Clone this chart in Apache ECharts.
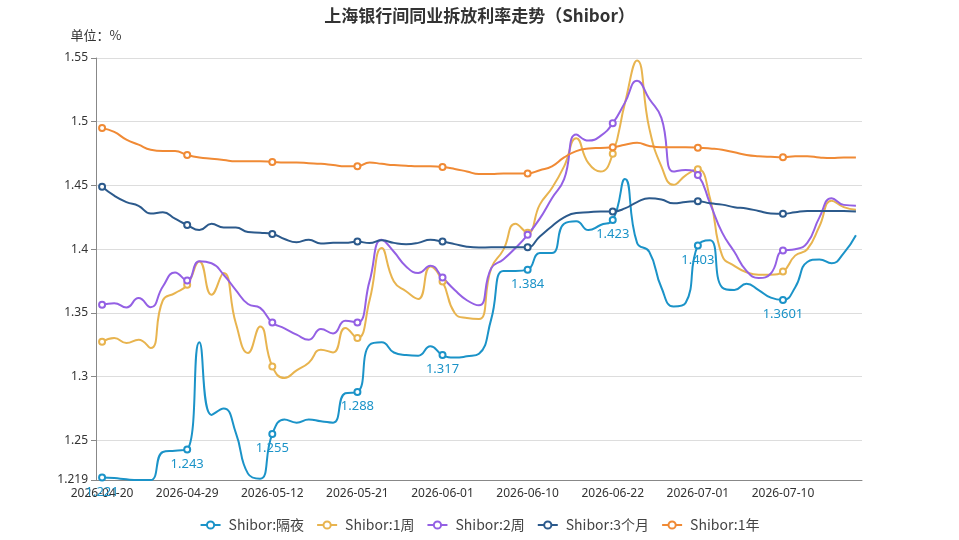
<!DOCTYPE html>
<html>
<head>
<meta charset="utf-8">
<title>Shibor</title>
<script src="https://cdn.jsdelivr.net/npm/echarts@6/dist/echarts.min.js"></script>
<style>
html, body { margin: 0; padding: 0; background: #fff; }
#chart { width: 959px; height: 540px; }
</style>
</head>
<body>
<div id="chart"></div>
<script>
var dates = [
  '2026-04-20', '2026-04-21', '2026-04-22', '2026-04-23', '2026-04-24', '2026-04-27', '2026-04-28',
  '2026-04-29', '2026-04-30', '2026-05-06', '2026-05-07', '2026-05-08', '2026-05-09', '2026-05-11',
  '2026-05-12', '2026-05-13', '2026-05-14', '2026-05-15', '2026-05-18', '2026-05-19', '2026-05-20',
  '2026-05-21', '2026-05-22', '2026-05-25', '2026-05-26', '2026-05-27', '2026-05-28', '2026-05-29',
  '2026-06-01', '2026-06-02', '2026-06-03', '2026-06-04', '2026-06-05', '2026-06-08', '2026-06-09',
  '2026-06-10', '2026-06-11', '2026-06-12', '2026-06-15', '2026-06-16', '2026-06-17', '2026-06-18',
  '2026-06-22', '2026-06-23', '2026-06-24', '2026-06-25', '2026-06-26', '2026-06-29', '2026-06-30',
  '2026-07-01', '2026-07-02', '2026-07-03', '2026-07-06', '2026-07-07', '2026-07-08', '2026-07-09',
  '2026-07-10', '2026-07-13', '2026-07-14', '2026-07-15', '2026-07-16', '2026-07-17', '2026-07-20'
];

var seriesNames = ['Shibor:隔夜', 'Shibor:1周', 'Shibor:2周', 'Shibor:3个月', 'Shibor:1年'];
var colors = ['#1b93c8', '#e8b44f', '#9460e4', '#2c5a8c', '#f08a35'];

var overnight = [
  1.221, 1.2205, 1.2195, 1.219, 1.219, 1.241, 1.242, 1.243, 1.327, 1.270,
  1.275, 1.256, 1.224, 1.220, 1.255, 1.2665, 1.264, 1.2665, 1.265, 1.264,
  1.287, 1.288, 1.325, 1.327, 1.319, 1.317, 1.3165, 1.324, 1.317, 1.315,
  1.316, 1.318, 1.345, 1.383, 1.383, 1.384, 1.397, 1.397, 1.420, 1.422,
  1.415, 1.419, 1.423, 1.455, 1.405, 1.398, 1.370, 1.355, 1.358, 1.403,
  1.407, 1.370, 1.368, 1.373, 1.368, 1.362, 1.3601, 1.370, 1.390, 1.392,
  1.389, 1.397, 1.411
];
var week1 = [
  1.3274, 1.3303, 1.3264, 1.329, 1.3225, 1.360, 1.3656, 1.3721, 1.3904, 1.3643,
  1.3813, 1.342, 1.3186, 1.3394, 1.3081, 1.299, 1.305, 1.311, 1.3212, 1.3191,
  1.3382, 1.3303, 1.360, 1.4009, 1.3747, 1.367, 1.361, 1.3865, 1.3747, 1.350,
  1.346, 1.3452, 1.385, 1.3995, 1.420, 1.413, 1.435, 1.448, 1.465, 1.4871,
  1.4675, 1.4609, 1.4748, 1.5145, 1.548, 1.495, 1.465, 1.4505, 1.458, 1.4627,
  1.440, 1.395, 1.387, 1.382, 1.380, 1.380, 1.3825, 1.395, 1.400, 1.418,
  1.438, 1.433, 1.4309
];
var week2 = [
  1.3565, 1.3577, 1.3543, 1.3617, 1.3545, 1.3708, 1.3818, 1.3755, 1.3905, 1.389,
  1.380, 1.368, 1.357, 1.354, 1.3426, 1.338, 1.333, 1.329, 1.3374, 1.334,
  1.344, 1.3426, 1.375, 1.4074, 1.398, 1.3865, 1.3813, 1.387, 1.3778, 1.368,
  1.360, 1.356, 1.385, 1.392, 1.401, 1.4113, 1.424, 1.440, 1.455, 1.490,
  1.4852, 1.4889, 1.4988, 1.515, 1.5322, 1.518, 1.503, 1.4609, 1.4622, 1.4583,
  1.436, 1.413, 1.398, 1.383, 1.3775, 1.381, 1.399, 1.400, 1.405, 1.425,
  1.440, 1.4348, 1.4342
];
var month3 = [
  1.449, 1.442, 1.437, 1.434, 1.428, 1.429, 1.424, 1.419, 1.415, 1.420,
  1.417, 1.417, 1.4135, 1.413, 1.412, 1.408, 1.4055, 1.4075, 1.4045, 1.405,
  1.405, 1.406, 1.4048, 1.407, 1.405, 1.404, 1.405, 1.4074, 1.406, 1.404,
  1.402, 1.4013, 1.4015, 1.4015, 1.4015, 1.4016, 1.410, 1.418, 1.425, 1.4285,
  1.429, 1.4296, 1.4296, 1.432, 1.437, 1.440, 1.439, 1.436, 1.437, 1.4377,
  1.436, 1.435, 1.433, 1.432, 1.430, 1.428, 1.4278, 1.429, 1.430, 1.430,
  1.430, 1.430, 1.4296
];
var year1 = [
  1.495, 1.492, 1.486, 1.482, 1.478, 1.477, 1.477, 1.474, 1.472, 1.471,
  1.470, 1.469, 1.469, 1.469, 1.4685, 1.468, 1.468, 1.4675, 1.467, 1.466,
  1.465, 1.465, 1.468, 1.467, 1.466, 1.4655, 1.465, 1.465, 1.4645, 1.463,
  1.461, 1.459, 1.459, 1.4595, 1.4595, 1.4595, 1.462, 1.465, 1.472, 1.477,
  1.479, 1.4795, 1.480, 1.482, 1.4835, 1.481, 1.480, 1.480, 1.480, 1.4797,
  1.479, 1.478, 1.476, 1.474, 1.473, 1.4725, 1.4722, 1.473, 1.473, 1.472,
  1.4715, 1.472, 1.472
];

var yMin = 1.219, yMax = 1.55;
var markStep = 7; // marker + label every 7th trading day, like the axis labels

// only every 7th point keeps its hollow marker
function withMarks(arr) {
  var out = [];
  for (var i = 0; i < arr.length; i++) {
    if (i % markStep == 0) {
      out.push({ value: arr[i] });
    } else {
      out.push({ value: arr[i], symbol: 'none' });
    }
  }
  return out;
}

function lineSerie(name, data, color, showLabel) {
  return {
    name: name,
    type: 'line',
    smooth: true,
    symbol: 'emptyCircle',
    symbolSize: 6,
    showAllSymbol: true,
    lineStyle: { width: 2 },
    itemStyle: { color: color, borderWidth: 1 },
    label: {
      show: showLabel,
      position: 'bottom',
      distance: 4,
      color: color,
      fontSize: 13,
      fontFamily: 'Noto Sans'
    },
    data: withMarks(data)
  };
}

var allData = [overnight, week1, week2, month3, year1];
var series = [];
for (var s = 0; s < seriesNames.length; s++) {
  series.push(lineSerie(seriesNames[s], allData[s], colors[s], s == 0));
}

var option = {
  animation: false,
  color: colors,
  textStyle: { fontFamily: 'Noto Sans CJK SC' },
  title: {
    text: '上海银行间同业拆放利率走势（Shibor）',
    left: 'center',
    top: 2,
    textStyle: { fontSize: 17, fontWeight: 'bold', color: '#333', fontFamily: 'Noto Sans CJK SC' }
  },
  legend: {
    bottom: 3,
    left: 'center',
    itemGap: 12,
    itemWidth: 20,
    itemHeight: 9,
    textStyle: { fontSize: 14, color: '#444', padding: [0, 0, 0, 3], fontFamily: 'Noto Sans CJK SC' },
    data: seriesNames
  },
  grid: { left: 96, right: 97, top: 58, bottom: 60 },
  xAxis: {
    type: 'category',
    boundaryGap: true,
    data: dates,
    axisLine: { lineStyle: { color: '#888' } },
    axisTick: { interval: 6, lineStyle: { color: '#888' } },
    axisLabel: { interval: 6, color: '#333', fontSize: 12, fontFamily: 'Noto Sans' }
  },
  yAxis: {
    type: 'value',
    name: '单位：%',
    nameGap: 16,
    nameTextStyle: { color: '#333', fontSize: 13, fontFamily: 'Noto Sans CJK SC' },
    min: yMin,
    max: yMax,
    axisLine: { show: true, lineStyle: { color: '#888' } },
    axisTick: { show: true, lineStyle: { color: '#888' } },
    axisLabel: { color: '#333', fontSize: 12, fontFamily: 'Noto Sans' },
    splitLine: { lineStyle: { color: '#ddd' } }
  },
  series: series
};

var chart = echarts.init(document.getElementById('chart'));
chart.setOption(option);
</script>
</body>
</html>
